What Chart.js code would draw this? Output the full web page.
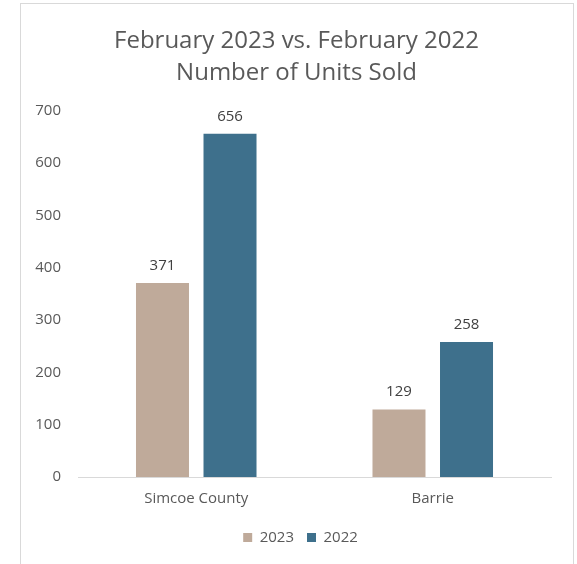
<!DOCTYPE html>
<html lang="en">
<head>
  <meta charset="UTF-8">
  <title>Number of Units Sold</title>
  <style>
    body {
      margin: 0;
      background: #fff;
    }
    #frame {
      position: absolute;
      left: 20px;
      top: 3px;
      width: 552px;
      height: 580px;
      border: 1px solid #d9d9d9;
    }
    #wrap {
      position: absolute;
      left: 0;
      top: 0;
      width: 577px;
      height: 564px;
    }
  </style>
</head>
<body>
  <div id="frame"></div>
  <div id="wrap"><canvas id="chart"></canvas></div>

  <script src="https://cdn.jsdelivr.net/npm/chart.js"></script>
  <script>
    const categories = ['Simcoe County', 'Barrie'];
    const sold2023 = [371, 129];
    const sold2022 = [656, 258];
    const yTicks = [0, 100, 200, 300, 400, 500, 600, 700];

    const textColor = '#595959';
    const fontFamily = '"Open Sans", sans-serif';

    // draws the value above each bar
    const valueLabels = {
      id: 'valueLabels',
      afterDatasetsDraw(chart) {
        const ctx = chart.ctx;
        ctx.save();
        ctx.font = '15px ' + fontFamily;
        ctx.fillStyle = '#404040';
        ctx.textAlign = 'center';
        ctx.textBaseline = 'bottom';
        chart.data.datasets.forEach((ds, i) => {
          chart.getDatasetMeta(i).data.forEach((bar, j) => {
            ctx.fillText(ds.data[j], bar.x, bar.y - 10);
          });
        });
        ctx.restore();
      }
    };

    // title and legend sit a bit off from where chart.js centres them
    const nudge = {
      id: 'nudge',
      afterLayout(chart) {
        chart.legend.left += 10;
        chart.legend.right += 10;
        chart.legend.top -= 4;
        chart.legend.bottom -= 4;
        chart.titleBlock.left += 6;
        chart.titleBlock.right += 6;
      }
    };

    new Chart(document.getElementById('chart'), {
      type: 'bar',
      data: {
        labels: categories,
        datasets: [
          { label: '2023', data: sold2023, backgroundColor: '#bfaa9a' },
          { label: '2022', data: sold2022, backgroundColor: '#3e708c' }
        ]
      },
      options: {
        responsive: true,
        maintainAspectRatio: false,
        animation: false,
        categoryPercentage: 0.571,
        barPercentage: 0.785,
        layout: { padding: { left: 30, right: 26, top: 8, bottom: 5 } },
        scales: {
          x: {
            grid: { display: false, drawTicks: false },
            border: { display: true, color: '#d9d9d9', width: 1 },
            ticks: { color: textColor, font: { family: fontFamily, size: 15 }, padding: 13 }
          },
          y: {
            min: 0,
            max: 700,
            afterFit(scale) { scale.width = 48; },
            afterBuildTicks(scale) { scale.ticks = yTicks.map(v => ({ value: v })); },
            grid: { display: false, drawTicks: false },
            border: { display: false },
            ticks: { color: textColor, font: { family: fontFamily, size: 15 }, padding: 17 }
          }
        },
        plugins: {
          title: {
            display: true,
            text: ['February 2023 vs. February 2022', 'Number of Units Sold'],
            color: textColor,
            font: { family: fontFamily, size: 24, weight: 'normal', lineHeight: 1.35 },
            padding: { top: 17, bottom: 21 }
          },
          legend: {
            position: 'bottom',
            labels: {
              color: textColor,
              font: { family: fontFamily, size: 15 },
              boxWidth: 9,
              boxHeight: 9,
              padding: 13
            }
          },
          tooltip: { enabled: false }
        }
      },
      plugins: [valueLabels, nudge]
    });
  </script>
</body>
</html>
